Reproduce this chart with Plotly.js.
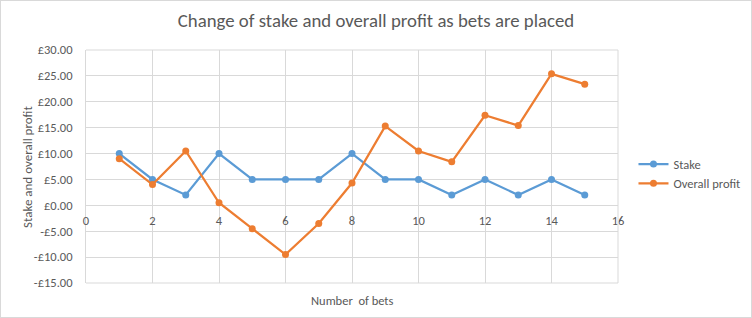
<!DOCTYPE html>
<html><head><meta charset="utf-8">
<script src="https://cdn.plot.ly/plotly-3.0.1.min.js"></script>
<style>
html,body{margin:0;padding:0;background:#fff;}
#wrap{position:relative;width:752px;height:318px;}
#chart{width:752px;height:318px;}
#frame{position:absolute;left:0;top:0;width:750px;height:316px;border:1px solid #d9d9d9;pointer-events:none;}
</style></head>
<body>
<div id="wrap"><div id="chart"></div><div id="frame"></div></div>
<script>
const bets = [1,2,3,4,5,6,7,8,9,10,11,12,13,14,15];
const stake = [10,5,2,10,5,5,5,10,5,5,2,5,2,5,2];
const overallProfit = [9,4,10.5,0.5,-4.5,-9.5,-3.5,4.3,15.3,10.5,8.4,17.4,15.4,25.4,23.4];
const yTickVals = [30,25,20,15,10,5,0,-5,-10,-15];
const yTickText = ['£30.00','£25.00','£20.00','£15.00','£10.00','£5.00','£0.00','-£5.00','-£10.00','-£15.00'];
const xTickVals = [0,2,4,6,8,10,12,14,16];

const font = 'Calibri, Carlito, "Open Sans", "Liberation Sans", sans-serif';
const txt = '#595959';

const traces = [
  {x: bets, y: stake, name: 'Stake', type: 'scatter', mode: 'lines+markers',
   line: {color: '#5b9bd5', width: 2.25}, marker: {color: '#5b9bd5', size: 7}},
  {x: bets, y: overallProfit, name: 'Overall profit', type: 'scatter', mode: 'lines+markers',
   line: {color: '#ed7d31', width: 2.25}, marker: {color: '#ed7d31', size: 7}}
];

const layout = {
  width: 752, height: 318,
  margin: {l: 85.5, r: 133.7, t: 49.5, b: 34.7, pad: 0, autoexpand: false},
  paper_bgcolor: '#fff', plot_bgcolor: '#fff',
  font: {family: font, color: txt, size: 12.5},
  title: {text: 'Change of stake and overall profit as bets are placed', font: {family: font, size: 18.8, color: txt},
          x: 0.5, xref: 'container', y: 0.937, yref: 'container', xanchor: 'center', yanchor: 'middle'},
  showlegend: true,
  legend: {xref: 'container', yref: 'container', x: 0.8424, y: 0.453, xanchor: 'left', yanchor: 'middle',
           font: {family: font, size: 12.5, color: txt},
           itemwidth: 30, tracegroupgap: 10, bgcolor: 'rgba(0,0,0,0)'},
  xaxis: {range: [0,16], tickvals: xTickVals, ticktext: xTickVals.map(String),
          showgrid: true, gridcolor: '#d9d9d9', gridwidth: 1, zeroline: false,
          showline: false, ticks: '', anchor: 'free', position: 1/3, ticklabelstandoff: 6,
          tickfont: {family: font, size: 12.5, color: txt}, mirror: false},
  yaxis: {range: [-15,30], tickvals: yTickVals, ticktext: yTickText,
          showgrid: true, gridcolor: '#d9d9d9', gridwidth: 1, zeroline: true, zerolinecolor: '#d9d9d9', zerolinewidth: 1,
          showline: true, linecolor: '#d9d9d9', ticks: '', ticklabelstandoff: 10,
          tickfont: {family: font, size: 12.5, color: txt}},
  shapes: [
    {type: 'line', xref: 'paper', yref: 'paper', x0: 1, x1: 1, y0: 0, y1: 1, line: {color: '#d9d9d9', width: 1}},
    {type: 'line', xref: 'paper', yref: 'paper', x0: 0, x1: 1, y0: 1, y1: 1, line: {color: '#d9d9d9', width: 1}},
    {type: 'line', xref: 'paper', yref: 'paper', x0: 0, x1: 1, y0: 0, y1: 0, line: {color: '#d9d9d9', width: 1}}
  ],
  annotations: [
    {text: 'Number  of bets', xref: 'paper', yref: 'paper', x: 0.5, y: -0.035, xanchor: 'center', yanchor: 'top',
     showarrow: false, font: {family: font, size: 12.5, color: txt}},
    {text: 'Stake and overall profit', xref: 'paper', yref: 'paper', x: -0.11, y: 0.5, xanchor: 'center', yanchor: 'middle',
     textangle: -90, showarrow: false, font: {family: font, size: 13, color: txt}}
  ]
};

Plotly.newPlot('chart', traces, layout, {displayModeBar: false, staticPlot: true});
</script>
</body></html>
